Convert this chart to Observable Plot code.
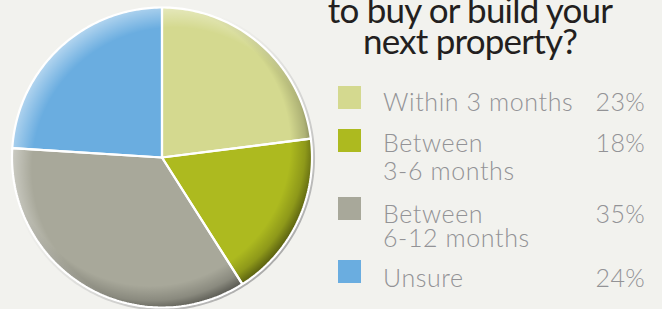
<!DOCTYPE html>
<html><head><meta charset="utf-8">
<script src="https://cdn.jsdelivr.net/npm/d3@7"></script>
<script src="https://cdn.jsdelivr.net/npm/@observablehq/plot@0.6"></script>
<style>
html,body{margin:0;padding:0;background:#f2f2ee;}
#wrap{position:relative;width:662px;height:309px;overflow:hidden;background:#f2f2ee;font-family:Lato,"Open Sans",sans-serif;}
#chart{position:absolute;left:0;top:0;}
.title{position:absolute;left:300px;width:340px;top:-6.3px;text-align:center;font-size:35px;letter-spacing:-0.8px;line-height:31px;color:#231f20;white-space:nowrap;}
.item{position:absolute;left:383px;width:262px;font-size:25px;font-weight:300;letter-spacing:0.6px;color:#939396;white-space:nowrap;}
.item .pct{position:absolute;right:0;top:0;letter-spacing:0.3px;}
.sw{position:absolute;left:338px;width:23px;height:23px;}
</style></head><body><div id="wrap"><div id="chart"></div></div>
<script>
const categories = ["Within 3 months","Between 3-6 months","Between 6-12 months","Unsure"];
const labels = [["Within 3 months"],["Between","3-6 months"],["Between","6-12 months"],["Unsure"]];
const values = [23,18,35,24];
const pctLabels = ["23%","18%","35%","24%"];
const colors = ["#d4d98f","#adba1f","#a8a89a","#6aade0"];
const titleLines = ["to buy or build your","next property?"];

// legend layout (styles)
const itemTops = [86.8, 127.9, 200.5, 263];
const itemLH = [28, 28.3, 24.2, 28];
const swTops = [86, 129, 197.3, 260];

// pie geometry derived from values
const total = d3.sum(values);
const slicePts = [];
let acc = 0;
values.forEach((v,i)=>{
  const a0 = acc/total*2*Math.PI, a1 = (acc+v)/total*2*Math.PI; acc += v;
  slicePts.push({category:categories[i], x:0, y:0});
  const n = Math.max(2, Math.ceil((a1-a0)/(Math.PI/180)));
  for (let k=0;k<=n;k++){ const a=a0+(a1-a0)*k/n; slicePts.push({category:categories[i], x:Math.sin(a), y:Math.cos(a)}); }
  slicePts.push({category:categories[i], x:0, y:0});
});
const circle = r => d3.range(0,361).map(d=>({x:r*Math.sin(d*Math.PI/180), y:r*Math.cos(d*Math.PI/180)}));

const chart = Plot.plot({
  width:330, height:309, margin:0,
  x:{domain:[-1,1], range:[11.5,311.5], axis:null},
  y:{domain:[-1,1], range:[307,7], axis:null},
  color:{domain:categories, range:colors},
  style:{background:"transparent", overflow:"visible"},
  marks:[
    Plot.line(circle(1.012), {x:"x", y:"y", stroke:"url(#pieShadow)", strokeWidth:2.5}),
    Plot.line(slicePts, {x:"x", y:"y", z:"category", fill:"category", stroke:"none"}),
    Plot.line(circle(1), {x:"x", y:"y", fill:"url(#pieDark)", stroke:"none"}),
    Plot.line(circle(1), {x:"x", y:"y", fill:"url(#pieLight)", stroke:"none"}),
    Plot.line(slicePts, {x:"x", y:"y", z:"category", stroke:"white", strokeWidth:2.2, strokeLinejoin:"miter"})
  ]
});
document.getElementById("chart").appendChild(chart);

const defs = d3.select(chart).insert("defs", ":first-child");
const dark = defs.append("radialGradient").attr("id","pieDark").attr("cx",0.46).attr("cy",0.46).attr("r",0.5566);
[[0.84,0],[0.93,0.18],[1,0.5]].forEach(([o,a])=>dark.append("stop").attr("offset",o).attr("stop-color","#000").attr("stop-opacity",a));
const light = defs.append("radialGradient").attr("id","pieLight").attr("cx",0.54).attr("cy",0.54).attr("r",0.5566);
[[0.85,0],[1,0.5]].forEach(([o,a])=>light.append("stop").attr("offset",o).attr("stop-color","#fff").attr("stop-opacity",a));
const sh = defs.append("linearGradient").attr("id","pieShadow").attr("x1",0).attr("y1",0).attr("x2",1).attr("y2",1);
[[0.35,"#cccccc",0],[1,"#8a8a8a",1]].forEach(([o,c,a])=>sh.append("stop").attr("offset",o).attr("stop-color",c).attr("stop-opacity",a));

const wrap = d3.select("#wrap");
wrap.append("div").attr("class","title").html(titleLines.join("<br>"));
categories.forEach((c,i)=>{
  wrap.append("div").attr("class","sw").style("top",swTops[i]+"px").style("background",colors[i]);
  const it = wrap.append("div").attr("class","item").style("top",itemTops[i]+"px").style("line-height",itemLH[i]+"px");
  it.append("span").html(labels[i].join("<br>"));
  it.append("span").attr("class","pct").text(pctLabels[i]);
});
</script></body></html>
